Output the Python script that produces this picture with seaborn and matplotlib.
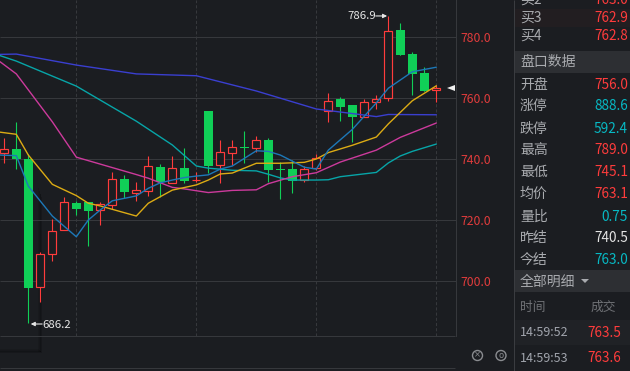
import matplotlib
matplotlib.use("Agg")
import matplotlib.pyplot as plt
import numpy as np
import pandas as pd
import seaborn as sns
from matplotlib.patches import Rectangle, Polygon, Circle

opens = [741.9,743.3,740.0,697.9,708.8,716.6,725.6,725.9,723.4,725.0,733.4,729.0,729.6,737.4,732.0,737.0,733.0,755.7,737.9,742.0,743.8,743.7,746.1,736.6,736.7,733.1,737.2,755.8,759.7,757.6,753.9,758.8,759.9,782.2,774.4,768.2,762.5]
closes = [743.2,740.0,697.8,708.8,716.4,725.8,723.6,723.0,725.1,733.3,729.3,729.7,737.6,732.6,737.0,732.8,733.2,737.8,742.2,743.8,743.6,746.1,736.4,736.4,732.9,736.8,740.4,759.1,757.2,753.9,758.8,759.6,782.1,774.2,768.0,762.3,763.4]
highs = [746.9,752.1,741.6,709.5,720.2,727.4,726.2,725.9,725.9,735.7,734.8,732.6,741.0,738.4,741.0,743.6,735.6,755.7,746.2,746.2,749.2,747.5,746.8,739.1,739.7,737.7,741.6,761.5,760.2,757.6,759.6,761.0,786.9,784.5,775.1,770.3,764.3]
lows = [738.8,736.7,686.2,693.2,706.7,716.6,721.6,711.6,718.4,723.6,727.1,726.3,728.0,727.6,732.0,732.2,732.6,735.5,732.2,738.0,738.8,742.4,732.6,727.0,729.0,732.6,736.4,752.2,752.6,745.6,753.9,756.4,759.0,774.2,761.0,762.3,758.8]

violet_i = [-0.36,1,6,11,16,21,26,31,32,36]
violet_v = [774.3,774.4,770.8,767.9,767.3,762.3,756.4,753.9,754.6,754.5]
teal_i = [-0.36,1,6,11,14,16,17,19,21,22,23,24,26,27,28,31,32,33,34,36]
teal_v = [773.9,772.1,763.9,752.4,744.6,737.7,737.0,736.3,736.1,735.0,733.8,733.1,733.1,733.2,734.2,735.6,738.7,741.0,742.5,744.9]
pink_i = [-0.36,1,4,6,11,12,13,14,15,17,19,21,22,24,26,28,31,33,36]
pink_v = [771.9,767.9,752.2,740.6,734.9,733.7,732.2,730.7,730.2,729.0,729.7,729.9,731.9,734.2,735.5,739.0,742.9,747.1,751.8]
yellow_i = [-0.36,1,2,4,6,7,8,11,12,14,16,17,18,19,21,23,25,26,27,29,31,32,34,36]
yellow_v = [748.8,748.1,741.3,731.7,728.0,725.5,724.6,721.3,725.5,729.8,731.5,733.1,735.1,735.4,738.6,738.6,738.9,740.0,742.1,744.5,747.2,751.5,759.1,764.0]
blue_i = [-0.36,1,2,4,6,7,8,9,10,11,12,13,14,15,16,17,18,19,21,22,23,25,26,27,29,31,32,33,34,36]
blue_v = [741.3,741.1,731.1,721.3,714.5,720.0,723.3,726.3,727.1,727.9,730.4,732.2,733.1,733.9,734.4,734.8,736.7,737.7,742.7,742.5,741.3,737.3,736.7,742.9,749.7,758.4,763.2,765.9,768.6,770.1]

price_ticks = [700, 720, 740, 760, 780]
vgrid_idx = [6, 16, 26, 36]
high_label = "786.9"
low_label = "686.2"

panel_labels = ["买2","买3","买4","开盘","涨停","跌停","最高","最低","均价","量比","昨结","今结"]
panel_values = ["763.0","762.9","762.8","756.0","888.6","592.4","789.0","745.1","763.1","0.75","740.5","763.0"]
trade_times = ["14:59:52","14:59:53"]
trade_prices = ["763.5","763.6"]

BG = "#1b1d21"
RED = "#ff3c3c"
GREEN = "#10cf57"
GRID = "#36383c"
sns.set_theme(style="dark", rc={"figure.facecolor": BG, "axes.facecolor": BG})
FONT = ["Noto Sans CJK SC", "DejaVu Sans"]
plt.rcParams["font.family"] = FONT

W, H = 630, 371
fig = plt.figure(figsize=(W/100, H/100), dpi=100, facecolor=BG)

bg = fig.add_axes([0, 0, 1, 1], zorder=0)
bg.set_xlim(0, W); bg.set_ylim(H, 0); bg.axis("off")
bg.hlines([336, 368], 0, 455, color=GRID, lw=0.75)
bg.vlines(513.5, 0, H, color="#3a3c40", lw=0.75)
bg.add_patch(Rectangle((514, 9), 116, 18, fc="#221e21", lw=0))
bg.add_patch(Rectangle((514, 51), 116, 22, fc="#2d2f33", lw=0))
bg.add_patch(Rectangle((514, 270), 116, 22, fc="#2d2f33", lw=0))
bg.add_patch(Rectangle((514, 320), 116, 25, fc="#202226", lw=0))

ax = fig.add_axes([0, 1-336/H, 456/W, 336/H], zorder=1)
ax.patch.set_alpha(0)
ax.set_xlim(-0.36, 37.64)
ax.set_ylim(780-299/3.05, 780+37/3.05)
ax.yaxis.tick_right()
ax.set_yticks(price_ticks)
ax.set_yticklabels([f"{v:.1f}" for v in price_ticks], color="#e03c3c", fontsize=8.8, family=FONT)
ax.tick_params(axis="y", length=0, pad=3)
for lab in ax.get_yticklabels():
    lab.set_va("center_baseline")
ax.set_xticks(vgrid_idx)
ax.set_xticklabels([])
ax.tick_params(axis="x", length=0)
ax.grid(False)
ax.hlines(price_ticks, -0.36, 37.64, color=GRID, lw=0.75, zorder=1)
ax.vlines(vgrid_idx, ax.get_ylim()[0], ax.get_ylim()[1], color=GRID, lw=0.75, ls=(0, (3, 2)), zorder=1)
for s in ["top", "left", "bottom"]:
    ax.spines[s].set_visible(False)
ax.spines["right"].set_color(GRID)
ax.spines["right"].set_linewidth(0.75)

for k, a in enumerate([0.10, 0.18, 0.30, 0.18]):
    bg.add_patch(Rectangle((38+k, 188+k*3), 1, 164-k*3, fc="#000000", alpha=a, lw=0))
    bg.add_patch(Rectangle((0, 349+k), 39+k, 1, fc="#000000", alpha=a, lw=0))

for i, (o, c, h, l) in enumerate(zip(opens, closes, highs, lows)):
    up = c >= o
    col = RED if up else GREEN
    ax.vlines(i, l, max(o, c), color=col, lw=0.8, zorder=3)
    ax.vlines(i, min(o, c), h, color=col, lw=0.8, zorder=3)
    if up:
        ax.bar(i, c-o, bottom=o, width=0.64, facecolor=BG, edgecolor=col, lw=0.85, zorder=4)
    else:
        ax.bar(i, max(o-c, 0.3), bottom=c, width=0.74, color=col, lw=0, zorder=4)

for xs, ys, col in [(violet_i, violet_v, "#3a3fd0"), (teal_i, teal_v, "#07a5a8"),
                    (pink_i, pink_v, "#cc3a9c"), (yellow_i, yellow_v, "#dcab14"),
                    (blue_i, blue_v, "#1d78b8")]:
    sns.lineplot(x=xs, y=ys, ax=ax, color=col, lw=1.0, zorder=5, sort=False, estimator=None)
ax.set_xlim(-0.36, 37.64)
ax.set_ylim(780-299/3.05, 780+37/3.05)

ARROW = dict(arrowstyle="-|>,head_width=0.1,head_length=0.2", color="#e6e6e6", lw=0.8, shrinkA=0, shrinkB=0)
ax.annotate(high_label, xy=(32, 786.9), xytext=(-41, -0.5), textcoords="offset pixels", color="#e6e6e6",
            fontsize=8.2, va="center", ha="left", zorder=6)
ax.annotate("", xy=(32-0.1, 786.9), xytext=(32-1.05, 786.9), arrowprops=ARROW, zorder=6)
ax.annotate(low_label, xy=(2, 686.2), xytext=(14, -2), textcoords="offset pixels", color="#e6e6e6",
            fontsize=8.2, va="center", ha="left", zorder=6)
ax.annotate("", xy=(2+0.2, 685.9), xytext=(2+1.15, 685.9), arrowprops=ARROW, zorder=6)

top = fig.add_axes([0, 0, 1, 1], zorder=2)
top.set_xlim(0, W); top.set_ylim(H, 0); top.axis("off"); top.patch.set_alpha(0)
top.add_patch(Polygon([[447, 88], [455, 85], [455, 91]], fc="#f0f0f0", lw=0))

for x, inner in [(477.5, "×"), (501, "o")]:
    top.add_patch(Circle((x, 355.5), 5, fc="none", ec="#8a8c90", lw=1))
    top.text(x, 355, inner, color="#8a8c90", fontsize=6, ha="center", va="center", family="DejaVu Sans")

LAB = "#a9abaf"
ys = [0, 18, 36, 85, 106, 129, 150, 172, 194, 217, 238, 260]
cols = [RED, RED, RED, RED, "#07b9c4", "#07b9c4", RED, RED, RED, "#07b9c4", "#e4e4e4", "#07b9c4"]
for lab, val, y, c in zip(panel_labels, panel_values, ys, cols):
    top.text(520, y, lab, color=LAB, fontsize=10, va="center", ha="left")
    top.text(628, y, val, color=c, fontsize=9.8, va="center", ha="right")
top.text(520, 62, "盘口数据", color=LAB, fontsize=10, va="center")
top.text(520, 282, "全部明细", color=LAB, fontsize=10, va="center")
top.add_patch(Polygon([[581, 279], [589, 279], [585, 283]], fc=LAB, lw=0))
top.text(520, 307, "时间", color="#6f7175", fontsize=9.2, va="center")
top.text(603, 307, "成交", color="#6f7175", fontsize=9.2, va="center", ha="center")
for t, p, y in zip(trade_times, trade_prices, [333, 358]):
    top.text(520, y, t, color="#a0a4ac", fontsize=9, va="center")
    top.text(587, y, p, color=RED, fontsize=9.8, va="center")

fig.savefig("out.png", dpi=100, facecolor=BG)
